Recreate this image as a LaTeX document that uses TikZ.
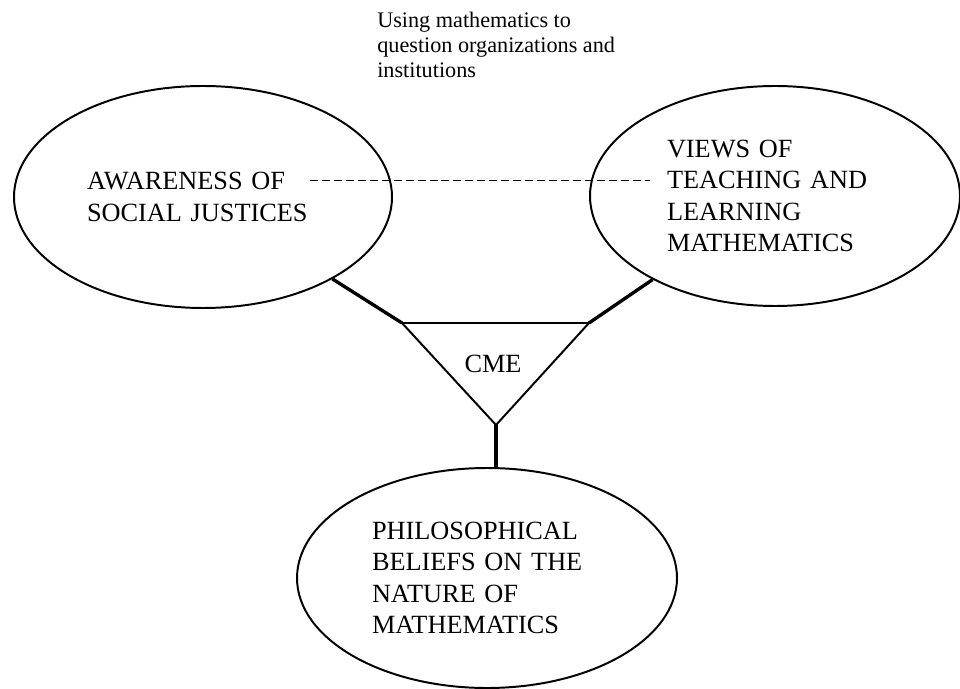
\documentclass[tikz,border=0pt]{standalone}
\usepackage{fontspec}
\setmainfont{Liberation Serif}
\usetikzlibrary{shapes.geometric}

\begin{document}
\begin{tikzpicture}[
  bubble/.style={ellipse, draw, line width=1.4pt, align=left, inner sep=0pt,
    font=\fontsize{18.7}{22.4}\selectfont},
  link/.style={line width=2.4pt},
  ]
  \useasboundingbox (0,0) rectangle (24,17.2);

  % note above the dashed line
  \node[anchor=north west, align=left, inner sep=0pt, font=\fontsize{15.8}{17.8}\selectfont]
    (note) at (9.425,16.9) {Using mathematics to\\question organizations and\\institutions};

  % the three ellipses
  \node[bubble, text width=5.8cm, minimum width=9.45cm, minimum height=5.55cm] (social) at (5.075,12.275)
    {AWARENESS OF\\SOCIAL JUSTICES};
  \node[bubble, text width=5.4cm, minimum width=9.25cm, minimum height=5.5cm] (views) at (19.375,12.3)
    {VIEWS OF\\TEACHING AND\\LEARNING\\MATHEMATICS};
  \node[bubble, text width=5.75cm, minimum width=9.5cm, minimum height=5.5cm] (beliefs) at (12.175,2.75)
    {PHILOSOPHICAL\\BELIEFS ON THE\\NATURE OF\\MATHEMATICS};

  % triangle in the middle
  \coordinate (tl) at (10.05,9.125);
  \coordinate (tr) at (14.725,9.125);
  \coordinate (tb) at (12.4,6.575);
  \draw[line width=1.4pt, line join=round] (tl) -- (tr) -- (tb) -- cycle;
  \node[inner sep=0pt, font=\fontsize{18.7}{22.4}\selectfont] (cme) at (12.325,8.11) {CME};

  % links
  \draw[link] (social) -- (tl);
  \draw[link] (views) -- (tr);
  \draw[link] (tb) -- (tb |- beliefs.north);

  % dashed line
  \coordinate (dl) at (7.75,12.7);
  \coordinate (dr) at (16.25,12.7);
  \draw[line width=0.7pt, dash pattern=on 5.7pt off 2.8pt] (dl) -- (dr);

\end{tikzpicture}
\end{document}
